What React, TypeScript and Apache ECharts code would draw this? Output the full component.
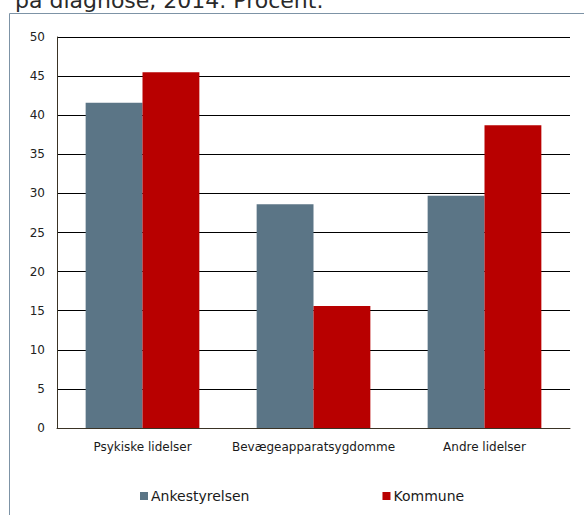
import React, { useEffect, useRef } from "react";
import * as echarts from "echarts";

const categories = ["Psykiske lidelser", "Bevægeapparatsygdomme", "Andre lidelser"];
const ankestyrelsen = [41.6, 28.6, 29.7];
const kommune = [45.5, 15.6, 38.7];
const seriesNames = ["Ankestyrelsen", "Kommune"];
const titleText = "på diagnose, 2014. Procent.";

export default function App() {
  const ref = useRef<HTMLDivElement>(null);
  useEffect(() => {
    if (!ref.current) return;
    const chart = echarts.init(ref.current, null, { renderer: "svg" });
    const font = "DejaVu Sans, Verdana, sans-serif";
    chart.setOption({
      animation: false,
      textStyle: { fontFamily: font },
      graphic: [
        {
          type: "rect",
          shape: { x: 9.5, y: 13.5, width: 700, height: 700 },
          style: { fill: "none", stroke: "#7d93a6", lineWidth: 1 },
          silent: true,
        },
        {
          type: "text",
          x: 15,
          y: 0.5,
          style: {
            text: titleText,
            font: `22px ${font}`,
            fill: "#2a2a2a",
            verticalAlign: "middle",
          },
        },
      ],
      legend: {
        data: seriesNames,
        left: 140,
        top: 489,
        padding: 0,
        itemWidth: 8,
        itemHeight: 8,
        itemGap: 133,
        icon: "rect",
        textStyle: { fontSize: 14, color: "#1a1a1a", fontFamily: font, padding: [0, 0, 0, -2] },
      },
      grid: { left: 57, right: 14, top: 37, bottom: 87, containLabel: false },
      xAxis: {
        type: "category",
        data: categories,
        axisLine: { show: true, lineStyle: { color: "#3a3325", width: 1 } },
        axisTick: { show: false },
        axisLabel: { fontSize: 12, color: "#1a1a1a", margin: 13, interval: 0, fontFamily: font },
      },
      yAxis: {
        type: "value",
        min: 0,
        max: 50,
        interval: 5,
        axisLine: { show: true, lineStyle: { color: "#3a3325", width: 1 } },
        axisTick: { show: false },
        axisLabel: { fontSize: 12, color: "#222", margin: 12, fontFamily: font },
        splitLine: { show: true, lineStyle: { color: "#000", width: 1 } },
      },
      series: [
        {
          name: seriesNames[0],
          type: "bar",
          data: ankestyrelsen,
          itemStyle: { color: "#5b7586" },
          barGap: "0%",
          barCategoryGap: "33.5%",
        },
        {
          name: seriesNames[1],
          type: "bar",
          data: kommune,
          itemStyle: { color: "#b80000" },
          barGap: "0%",
          barCategoryGap: "33.5%",
        },
      ],
    });
    return () => chart.dispose();
  }, []);
  return (
    <div
      ref={ref}
      style={{ position: "fixed", left: 0, top: 0, width: 584, height: 515, background: "#fff" }}
    />
  );
}
